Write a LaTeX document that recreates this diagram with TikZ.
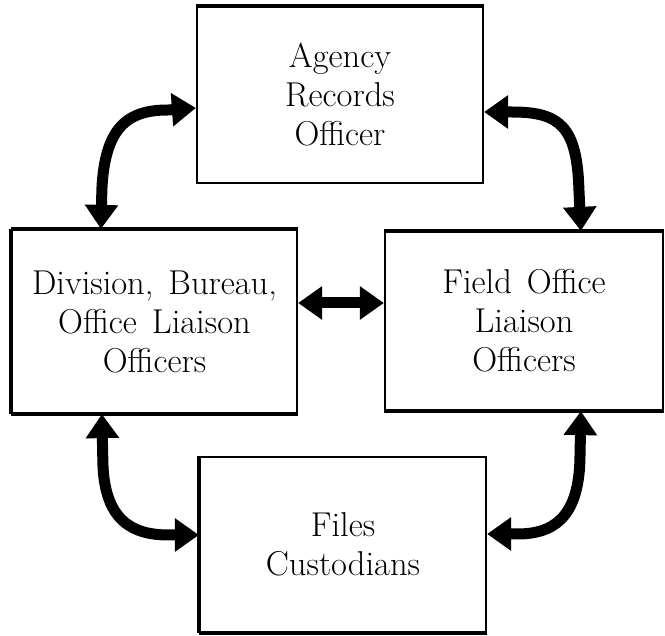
\documentclass[tikz,border=0pt]{standalone}
\usetikzlibrary{arrows.meta,calc}
\begin{document}
\begin{tikzpicture}[x=1pt,y=-1pt,
  box/.style={draw, line width=2.2pt, inner sep=0pt, align=center,
    font=\fontsize{34.5}{39}\selectfont},
  shadowline/.style={line width=4.5pt},
  link/.style={line width=11pt,
    {Triangle[length=24pt,width=32pt]}-{Triangle[length=24pt,width=32pt]}}]
\useasboundingbox (0,0) rectangle (665,636);
\fill[white] (0,0) rectangle (665,636);

\node[box, minimum width=286pt, minimum height=176pt] (T) at (340,95)
  {Agency\\Records\\Officer};
\node[box, minimum width=285pt, minimum height=183pt] (L) at (154.5,321.5)
  {Division,\hspace{15pt}Bureau,\\Office\hspace{15pt}Liaison\\Officers};
\node[box, minimum width=278pt, minimum height=178pt] (R) at (524,321)
  {Field\hspace{15pt}Office\\Liaison\\Officers};
\node[box, minimum width=286pt, minimum height=175pt] (B) at (343,544.5)
  {Files\\Custodians};

% heavier edges
\draw[shadowline] (T.north west) -- (T.north east);
\draw[shadowline] (L.north west) -- (L.north east);
\draw[shadowline] (L.south west) -- (L.south east);
\draw[shadowline] (L.south west) -- (L.north west);
\draw[shadowline] (R.north west) -- (R.north east);
\draw[shadowline] (R.south west) -- (R.south east);
\draw[shadowline] (B.south west) -- (B.south east);
\draw[shadowline] (B.south west) -- (B.north west);

% connector end points
\coordinate (a1) at ($(L.north west)+(90,0)$);
\coordinate (a2) at ($(T.west)+(0,13)$);
\coordinate (b1) at ($(T.east)+(0,17)$);
\coordinate (b2) at ($(R.north west)+(197,0)$);
\coordinate (c1) at ($(L.south west)+(91,0)$);
\coordinate (c2) at ($(B.west)+(0,-9.5)$);
\coordinate (d1) at ($(R.south west)+(197,0)$);
\coordinate (d2) at ($(B.east)+(0,-10.5)$);
\coordinate (h1) at ($(L.east)+(0,-18.5)$);
\coordinate (h2) at ($(R.west)+(0,-18)$);

\draw[link] (a1) -- ++(1,-40) .. controls +(3,-62) and +(-40,0) .. ($(a2)+(-28,2)$) -- (a2);
\draw[link] (b1) -- ++(28,0) .. controls +(48,0) and +(-2,-62) .. ($(b2)+(-2,-42)$) -- (b2);
\draw[link] (c1) -- ++(1,50) .. controls +(2,58) and +(-35,0) .. ($(c2)+(-30,0)$) -- (c2);
\draw[link] (d1) -- ++(-1,50) .. controls +(-2,58) and +(35,0) .. ($(d2)+(30,0)$) -- (d2);
\draw[link] (h1) -- (h2);
\end{tikzpicture}
\end{document}
